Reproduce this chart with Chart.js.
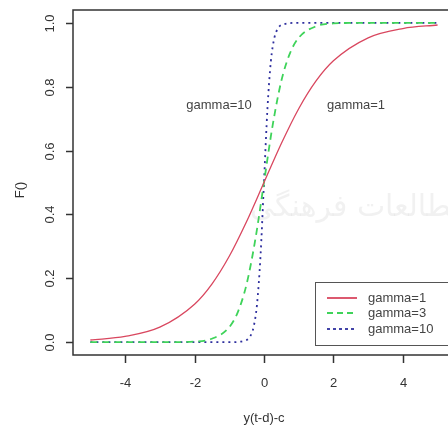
<!DOCTYPE html>
<html>
<head>
<meta charset="utf-8">
<script src="https://cdn.jsdelivr.net/npm/chart.js@4.4.0/dist/chart.umd.min.js"></script>
<style>
  html, body { margin: 0; padding: 0; background: #fff; overflow: hidden; }
  #wrap { width: 448px; height: 427px; position: relative; }
</style>
</head>
<body>
<div id="wrap"><canvas id="chart"></canvas></div>
<script>
//****************************** data ******************************
// gamma = 1 (red solid)
const xG1 = [-5, -4, -3, -2, -1.5, -1, -0.5, 0, 0.5, 1, 1.5, 2, 3, 4, 5];
const yG1 = [0.007, 0.018, 0.047, 0.119, 0.182, 0.269, 0.378, 0.5, 0.622, 0.731, 0.818, 0.881, 0.953, 0.982, 0.993];
// gamma = 3 (green dashed)
const xG3 = [-5, -3, -2, -1.5, -1, -0.75, -0.5, -0.25, 0, 0.25, 0.5, 0.75, 1, 1.5, 2, 3, 5];
const yG3 = [0, 0, 0.002, 0.011, 0.047, 0.095, 0.182, 0.321, 0.5, 0.679, 0.818, 0.905, 0.953, 0.989, 0.998, 1, 1];
// gamma = 10 (blue dotted)
const xG10 = [-5, -1, -0.5, -0.4, -0.3, -0.2, -0.1, 0, 0.1, 0.2, 0.3, 0.4, 0.5, 1, 5];
const yG10 = [0, 0, 0.007, 0.018, 0.047, 0.119, 0.269, 0.5, 0.731, 0.881, 0.953, 0.982, 0.993, 1, 1];

const xTicks = [-4, -2, 0, 2, 4];
const yTicks = [0, 0.2, 0.4, 0.6, 0.8, 1];
const yTickLabels = ['0.0', '0.2', '0.4', '0.6', '0.8', '1.0'];
const seriesNames = ['gamma=1', 'gamma=3', 'gamma=10'];

//****************************** helpers ******************************
const toPoints = (xs, ys) => xs.map((x, i) => ({ x: x, y: ys[i] }));

const RED = '#d9475f';
const GREEN = '#3fd35a';
const BLUE = '#2e2f9e';
const FONT = '"Liberation Sans", Arial, sans-serif';

// R style frame, ticks, labels, text and legend
const rPlot = {
  id: 'rPlot',
  afterDraw(chart) {
    const ctx = chart.ctx;
    const area = chart.chartArea;
    const sx = chart.scales.x;
    const sy = chart.scales.y;
    ctx.save();

    // faint watermark
    ctx.fillStyle = 'rgba(150,150,150,0.13)';
    ctx.font = '30px "DejaVu Sans", sans-serif';
    ctx.textAlign = 'left';
    ctx.textBaseline = 'middle';
    ctx.fillText('ومطالعات فرهنگی', 250, 208);

    // box
    ctx.strokeStyle = '#333';
    ctx.lineWidth = 1.5;
    ctx.strokeRect(area.left, area.top, area.right - area.left + 5, area.bottom - area.top);

    // x ticks
    ctx.fillStyle = '#333';
    ctx.font = '13px ' + FONT;
    ctx.textAlign = 'center';
    xTicks.forEach(v => {
      const px = Math.round(sx.getPixelForValue(v)) + 0.5;
      ctx.beginPath();
      ctx.moveTo(px, area.bottom);
      ctx.lineTo(px, area.bottom + 8);
      ctx.stroke();
      ctx.fillText(String(v), px, area.bottom + 28);
    });

    // y ticks, labels rotated like R
    yTicks.forEach((v, i) => {
      const py = Math.round(sy.getPixelForValue(v)) + 0.5;
      ctx.beginPath();
      ctx.moveTo(area.left, py);
      ctx.lineTo(area.left - 7, py);
      ctx.stroke();
      ctx.save();
      ctx.translate(area.left - 23, py);
      ctx.rotate(-Math.PI / 2);
      ctx.fillText(yTickLabels[i], 0, 0);
      ctx.restore();
    });

    // axis titles
    ctx.fillText('y(t-d)-c', sx.getPixelForValue(0), 418);
    ctx.save();
    ctx.translate(20, 190);
    ctx.rotate(-Math.PI / 2);
    ctx.fillText('F()', 0, 0);
    ctx.restore();

    // curve labels
    ctx.fillStyle = '#444';
    ctx.fillText('gamma=10', 219, 105);
    ctx.fillText('gamma=1', 356, 105);

    // legend
    ctx.fillStyle = '#fff';
    ctx.fillRect(315, 282, 140, 64);
    ctx.strokeStyle = '#555';
    ctx.lineWidth = 1;
    ctx.strokeRect(315.5, 282.5, 140, 63);
    const styles = [
      { c: RED, d: [] },
      { c: GREEN, d: [6, 4] },
      { c: BLUE, d: [3, 3] }
    ];
    const rows = [298, 313, 329];
    ctx.textAlign = 'left';
    seriesNames.forEach((name, i) => {
      ctx.strokeStyle = styles[i].c;
      ctx.lineWidth = 1.8;
      ctx.setLineDash(styles[i].d);
      ctx.beginPath();
      ctx.moveTo(327, rows[i]);
      ctx.lineTo(357, rows[i]);
      ctx.stroke();
      ctx.setLineDash([]);
      ctx.fillStyle = '#444';
      ctx.fillText(name, 368, rows[i]);
    });

    ctx.restore();
  }
};

//****************************** chart ******************************
new Chart(document.getElementById('chart'), {
  type: 'line',
  data: {
    datasets: [
      {
        label: seriesNames[0],
        data: toPoints(xG1, yG1),
        borderColor: RED,
        borderWidth: 1.3,
        pointRadius: 0,
        cubicInterpolationMode: 'monotone'
      },
      {
        label: seriesNames[1],
        data: toPoints(xG3, yG3),
        borderColor: GREEN,
        borderWidth: 1.8,
        borderDash: [7, 5],
        pointRadius: 0,
        cubicInterpolationMode: 'monotone'
      },
      {
        label: seriesNames[2],
        data: toPoints(xG10, yG10),
        borderColor: BLUE,
        borderWidth: 1.8,
        borderDash: [2, 4],
        pointRadius: 0,
        cubicInterpolationMode: 'monotone'
      }
    ]
  },
  options: {
    responsive: true,
    maintainAspectRatio: false,
    animation: false,
    layout: { padding: { left: 73, top: 10, right: 0, bottom: 72 } },
    plugins: { legend: { display: false }, tooltip: { enabled: false } },
    scales: {
      x: { type: 'linear', min: -5.5, max: 5.3, display: false },
      y: { type: 'linear', min: -0.04, max: 1.04, display: false }
    }
  },
  plugins: [rPlot]
});
</script>
</body>
</html>
